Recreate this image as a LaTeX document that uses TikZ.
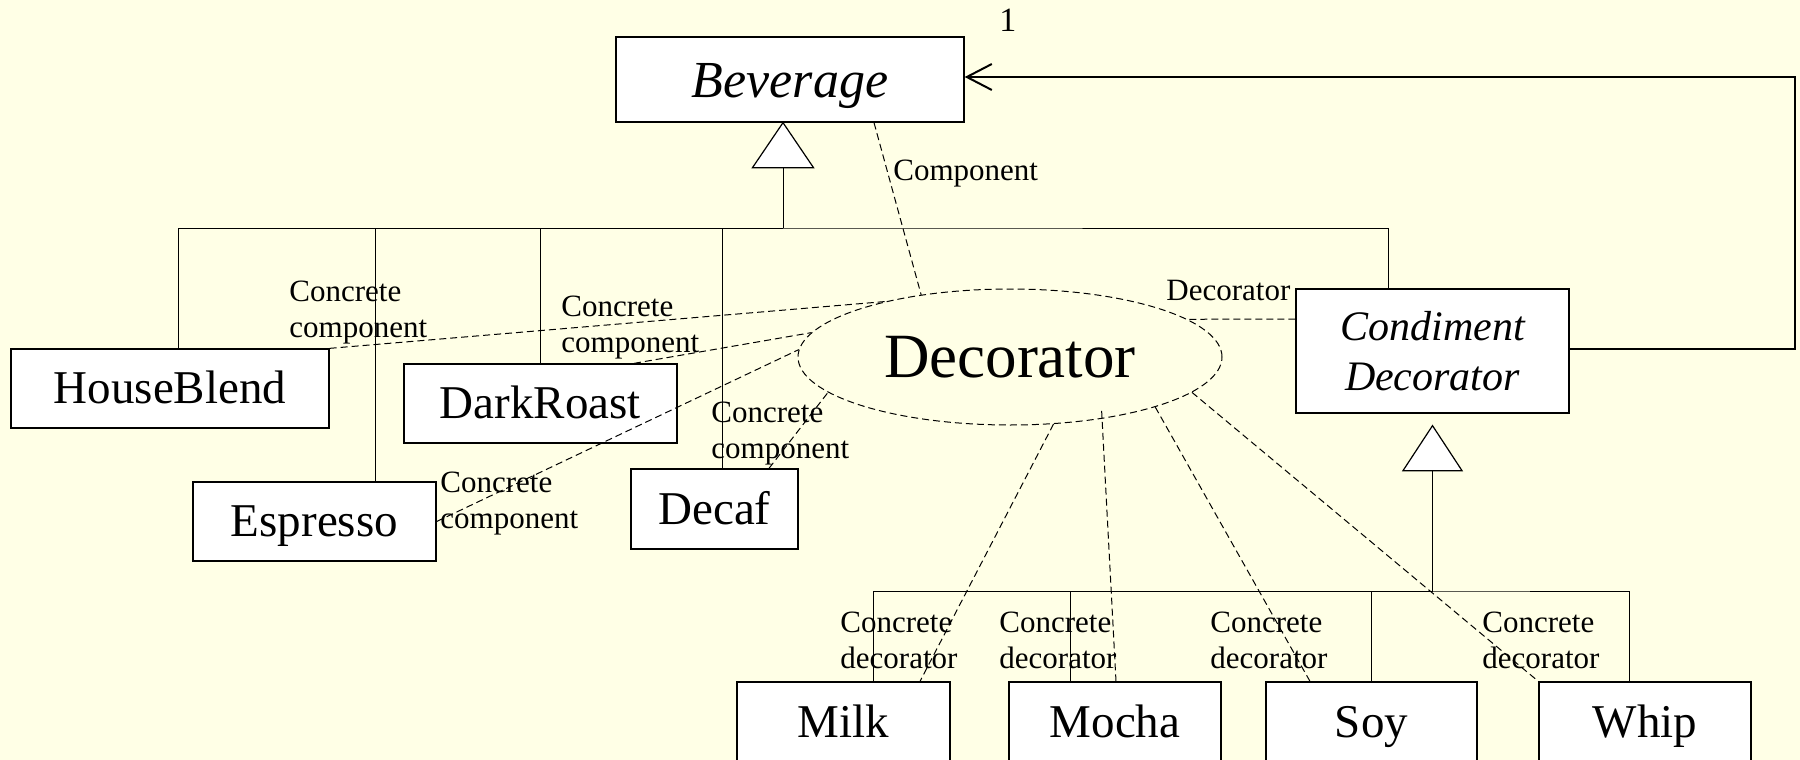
\documentclass[tikz,border=0pt]{standalone}
\usepackage{fontspec}
\setmainfont{Liberation Serif}
\usetikzlibrary{arrows.meta,shapes.geometric}
\definecolor{paper}{HTML}{FFFFE6}

\begin{document}
\begin{tikzpicture}[x=0.5pt,y=-0.5pt,
    cls/.style={draw,fill=white,line width=0.65pt,inner sep=0pt,text height=17pt,text depth=2pt,
      font=\fontsize{23.5}{28}\selectfont},
    ell/.style={ellipse,draw,dash pattern=on 3.5pt off 2pt,line width=0.5pt,inner sep=0pt,
      minimum width=212pt,minimum height=68pt,font=\fontsize{31.5}{36}\selectfont},
    lbl/.style={inner sep=0pt,align=left,font=\fontsize{15.5}{18}\selectfont},
    bus/.style={line width=0.5pt},
    gen/.style={draw,fill=white,line width=0.6pt},
    dep/.style={dash pattern=on 3.5pt off 2pt,line width=0.5pt},
    assoc/.style={line width=1pt,-{Straight Barb[length=12.5pt,width=13pt]}}]
  \fill[paper] (0,0) rectangle (1800,760);
  \useasboundingbox (0,0) rectangle (1800,760);

  % classes
  \node[cls,minimum width=174pt,minimum height=42.5pt,text height=19pt,text depth=1.5pt,
    font={\fontsize{26}{30}\selectfont\itshape}] (bev) at (790,79.5) {Beverage};
  \node[cls,minimum width=136.5pt,minimum height=62pt,align=center,text height=,text depth=,
    font={\fontsize{21}{25}\selectfont\itshape}] (cond) at (1432.5,351) {Condiment\\Decorator};
  \node[ell] (dec) at (1010,357) {Decorator};

  \node[cls,minimum width=159pt,minimum height=39.5pt] (hb) at (170,388.5) {HouseBlend};
  \node[cls,minimum width=121.5pt,minimum height=39.5pt] (esp) at (314.5,521.5) {Espresso};
  \node[cls,minimum width=136.5pt,minimum height=39.5pt] (dr) at (540.5,403.5) {DarkRoast};
  \node[cls,minimum width=83.5pt,minimum height=40pt] (dcf) at (714.5,509) {Decaf};
  \node[cls,minimum width=106.5pt,minimum height=40pt] (milk) at (843.5,722) {Milk};
  \node[cls,minimum width=106pt,minimum height=40pt] (mocha) at (1115,722) {Mocha};
  \node[cls,minimum width=105.5pt,minimum height=40pt] (soy) at (1371.5,722) {Soy};
  \node[cls,minimum width=106pt,minimum height=40pt] (whip) at (1645,722) {Whip};

  % role labels
  \node[lbl,anchor=base west,font=\fontsize{17}{20}\selectfont] (mult) at (999,32) {1};
  \node[lbl,anchor=base west] (lcomp) at (893,180) {Component};
  \node[lbl,anchor=base west] (ldec) at (1166,300) {Decorator};
  \node[lbl,anchor=north west] (lhb) at (289,281) {Concrete\\component};
  \node[lbl,anchor=north west] (ldr) at (561,296) {Concrete\\component};
  \node[lbl,anchor=north west] (ldcf) at (711,402) {Concrete\\component};
  \node[lbl,anchor=north west] (lesp) at (440,472) {Concrete\\component};
  \node[lbl,anchor=north west] (lmilk) at (840,612) {Concrete\\decorator};
  \node[lbl,anchor=north west] (lmocha) at (999,612) {Concrete\\decorator};
  \node[lbl,anchor=north west] (lsoy) at (1210,612) {Concrete\\decorator};
  \node[lbl,anchor=north west] (lwhip) at (1482,612) {Concrete\\decorator};

  % inheritance from Beverage
  \coordinate (tri1) at ([xshift=-3.5pt]bev.south);
  \draw[gen] (tri1) -- ++(30.5,45) -- ++(-61,0) -- cycle;
  \coordinate (tri1b) at ([yshift=-22.5pt]tri1);
  \coordinate (bus1) at (783,228);
  \draw[bus] (tri1b) -- (bus1);
  \draw[bus] ([xshift=4pt]hb.north) |- (bus1) -| ([xshift=-22.25pt]cond.north);
  \draw[bus] ([xshift=30.25pt]esp.north) |- (bus1);
  \draw[bus] (dr.north) |- (bus1);
  \draw[bus] ([xshift=3.75pt]dcf.north) |- (bus1);

  % inheritance from CondimentDecorator
  \coordinate (tri2) at ([yshift=-6pt]cond.south);
  \draw[gen] (tri2) -- ++(29.5,45) -- ++(-59,0) -- cycle;
  \coordinate (tri2b) at ([yshift=-22.5pt]tri2);
  \coordinate (bus2) at (1432.5,591);
  \draw[bus] (tri2b) -- (bus2);
  \draw[bus] ([xshift=14.75pt]milk.north) |- (bus2) -| ([xshift=-8pt]whip.north);
  \draw[bus] ([xshift=-22.5pt]mocha.north) |- (bus2);
  \draw[bus] (soy.north) |- (bus2);

  % wraps one Beverage
  \coordinate (ret) at (1795,200);
  \draw[assoc] ([yshift=1pt]cond.east) -| (ret) |- ([yshift=1.25pt]bev.east);

  % pattern roles
  \draw[dep] ([xshift=42pt]bev.south) -- (dec.145);
  \draw[dep] (hb.north east) -- (dec.156);
  \draw[dep] ([xshift=46.75pt]dr.north) -- (dec.173);
  \draw[dep] (esp.east) -- (dec.178);
  \draw[dep] ([xshift=27.25pt]dcf.north) -- (dec.191);
  \draw[dep] ([yshift=16pt]cond.west) -- (dec.12);
  \draw[dep] (dec.-57) -- ([xshift=38.25pt]milk.north);
  \draw[dep] ([yshift=4pt]dec.-34) -- ([xshift=0.5pt]mocha.north);
  \draw[dep] (dec.-19) -- ([xshift=-30.75pt]soy.north);
  \draw[dep] (dec.-11) -- (whip.north west);
\end{tikzpicture}
\end{document}
